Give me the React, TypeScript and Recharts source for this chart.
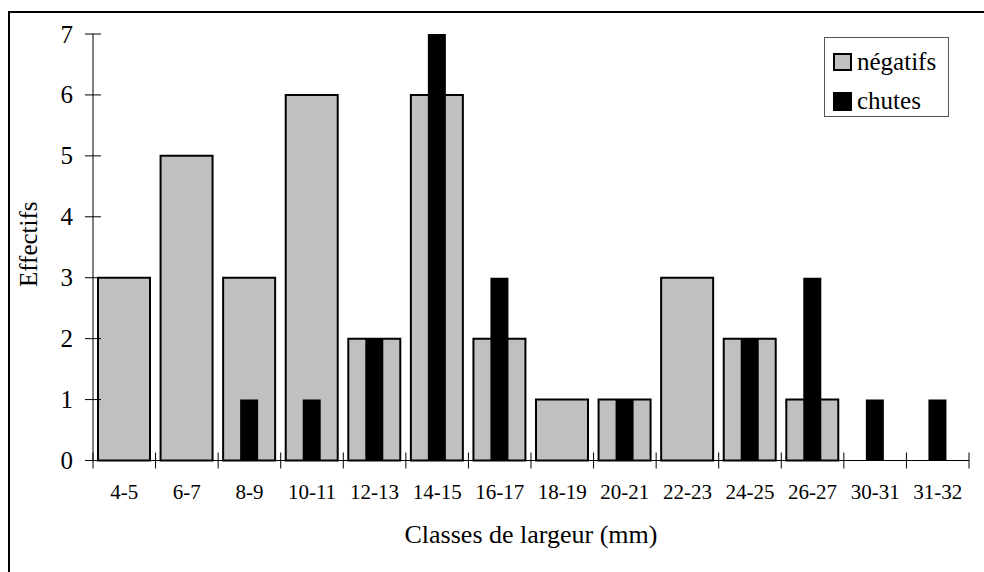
import { BarChart, Bar, XAxis, YAxis, Legend } from "recharts";

const classes = ["4-5", "6-7", "8-9", "10-11", "12-13", "14-15", "16-17", "18-19", "20-21", "22-23", "24-25", "26-27", "30-31", "31-32"];
const negatifs = [3, 5, 3, 6, 2, 6, 2, 1, 1, 3, 2, 1, 0, 0];
const chutes = [0, 0, 1, 1, 2, 7, 3, 0, 1, 0, 2, 3, 1, 1];
const yTicks = [0, 1, 2, 3, 4, 5, 6, 7];

const data = classes.map((c, i) => ({ classe: c, negatifs: negatifs[i], chutes: chutes[i] }));

const W = 984;
const H = 572;
const margin = { top: 34, right: 15, left: 33, bottom: 11.5 };
const yAxisWidth = 60;
const plotW = W - margin.left - yAxisWidth - margin.right;
const band = plotW / classes.length;
const font = "Liberation Serif, DejaVu Serif, serif";

const YTick = (props: any) => {
  const { x, y, payload } = props;
  return (
    <g>
      <line x1={x - 8} x2={x + 8} y1={y} y2={y} stroke="#000" strokeWidth={1} />
      <text x={x - 20} y={y} dy="0.34em" textAnchor="end" fontSize={25} fontFamily={font} fill="#000">
        {payload.value}
      </text>
    </g>
  );
};

const XTick = (props: any) => {
  const { x, y, payload, index } = props;
  const half = band / 2;
  return (
    <g>
      <line x1={x - half} x2={x - half} y1={y - 8} y2={y + 8} stroke="#000" strokeWidth={1} />
      {index === classes.length - 1 && (
        <line x1={x + half} x2={x + half} y1={y - 8} y2={y + 8} stroke="#000" strokeWidth={1} />
      )}
      <text x={x} y={y + 38} textAnchor="middle" fontSize={21} fontFamily={font} fill="#000">
        {payload.value}
      </text>
    </g>
  );
};

const LegendBox = () => (
  <div
    style={{
      width: 125,
      height: 80,
      boxSizing: "border-box",
      border: "1px solid #555",
      background: "#fff",
      fontFamily: font,
      fontSize: 25,
      color: "#000",
      padding: "9px 0 0 8px",
    }}
  >
    <div style={{ display: "flex", alignItems: "center", height: 30, marginBottom: 9 }}>
      <span style={{ width: 19, height: 18, boxSizing: "border-box", background: "#c0c0c0", border: "2px solid #000", marginRight: 5 }} />
      <span style={{ lineHeight: "30px" }}>négatifs</span>
    </div>
    <div style={{ display: "flex", alignItems: "center", height: 30 }}>
      <span style={{ width: 19, height: 19, background: "#000", marginRight: 5 }} />
      <span style={{ lineHeight: "30px" }}>chutes</span>
    </div>
  </div>
);

export default function App() {
  return (
    <div style={{ position: "fixed", left: 0, top: 0, width: W, height: H, background: "#fff", fontFamily: font }}>
      <div
        style={{
          position: "absolute",
          left: 8,
          top: 11,
          width: W - 8,
          height: H - 11,
          boxSizing: "border-box",
          borderLeft: "2px solid #000",
          borderTop: "2px solid #000",
        }}
      />
      <BarChart width={W} height={H} data={data} margin={margin} style={{ fontFamily: font }}>
        <XAxis
          xAxisId="neg"
          dataKey="classe"
          height={100}
          axisLine={{ stroke: "#000", strokeWidth: 1 }}
          tickLine={false}
          tickSize={0}
          tickMargin={0}
          interval={0}
          tick={<XTick />}
          label={{
            content: (p: any) => {
              const vb = p.viewBox;
              return (
                <text x={vb.x + vb.width / 2} y={vb.y + 82} textAnchor="middle" fontSize={26} fontFamily={font} fill="#000">
                  Classes de largeur (mm)
                </text>
              );
            },
          }}
        />
        <XAxis xAxisId="chu" dataKey="classe" hide height={0} />
        <YAxis
          width={yAxisWidth}
          domain={[0, 7]}
          ticks={yTicks}
          interval={0}
          axisLine={{ stroke: "#000", strokeWidth: 1 }}
          tickLine={false}
          tickSize={0}
          tickMargin={0}
          tick={<YTick />}
          label={{
            content: (p: any) => {
              const vb = p.viewBox;
              const cx = vb.x + 4;
              const cy = vb.y + vb.height / 2 - 3;
              return (
                <text x={cx} y={cy} transform={`rotate(-90, ${cx}, ${cy})`} textAnchor="middle" fontSize={25} fontFamily={font} fill="#000">
                  Effectifs
                </text>
              );
            },
          }}
        />
        <Legend
          layout="horizontal"
          verticalAlign="middle"
          align="center"
          content={<LegendBox />}
          wrapperStyle={{ left: 824, top: 37, width: 125, height: 80 }}
        />
        <Bar
          xAxisId="neg"
          dataKey="negatifs"
          name="négatifs"
          barSize={52}
          fill="#c0c0c0"
          stroke="#000"
          strokeWidth={2}
          isAnimationActive={false}
        />
        <Bar xAxisId="chu" dataKey="chutes" name="chutes" barSize={18} fill="#000" isAnimationActive={false} />
      </BarChart>
    </div>
  );
}
